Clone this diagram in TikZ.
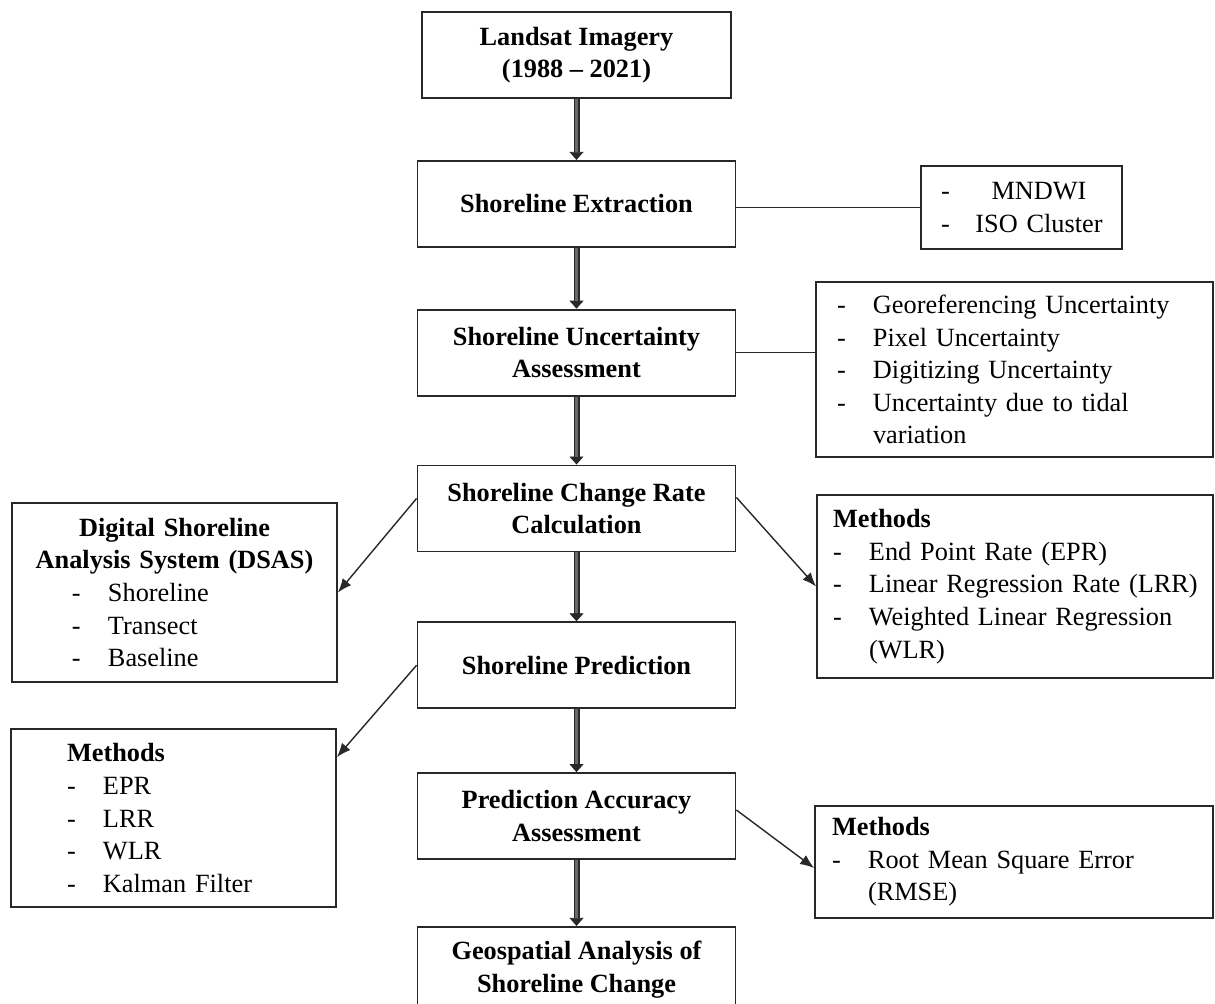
\documentclass[tikz,border=0pt]{standalone}
\usepackage{fontspec}
\setmainfont{Liberation Serif}
\usepackage{tikz}
\usetikzlibrary{arrows.meta,positioning}
\usepackage{xcolor}
\definecolor{lineblack}{RGB}{40,40,40}
\definecolor{shaftgrey}{RGB}{105,105,105}
\newcommand{\itm}[1]{\mbox{\makebox[18pt][l]{-}#1}}

\begin{document}
\begin{tikzpicture}[x=0.5pt, y=-0.5pt,
    font=\fontsize{13.15}{16.3}\selectfont,
    mainstep/.style={rectangle, draw=lineblack, line width=0.9pt,
        minimum width=159pt, minimum height=43pt, align=center,
        font=\fontsize{13.15}{16.3}\selectfont\bfseries, inner sep=2pt},
    sidebox/.style={rectangle, draw=lineblack, line width=0.9pt,
        align=left, inner ysep=2pt},
    flow/.style={-{Triangle[length=4pt,width=7pt,line width=0.4pt]},
        line width=3pt, draw=lineblack,
        postaction={draw=shaftgrey, line width=1.2pt, -, shorten >=4pt}},
    link/.style={lineblack, line width=0.7pt},
    linkarr/.style={link, -{Latex[length=7pt,width=5.5pt]}}
]
    \useasboundingbox (0,0) rectangle (1215,1003);

    % main chain
    \node[mainstep, minimum width=154.5pt] (land) at (576.5,55) {Landsat Imagery\\(1988 -- 2021)};
    \node[mainstep, below=30.5pt of land] (extr) {Shoreline Extraction};
    \node[mainstep, below=30.5pt of extr] (unc) {Shoreline Uncertainty\\Assessment};
    \node[mainstep, below=34pt of unc] (rate) {Shoreline Change Rate\\Calculation};
    \node[mainstep, below=34.5pt of rate] (pred) {Shoreline Prediction};
    \node[mainstep, below=31.5pt of pred] (acc) {Prediction Accuracy\\Assessment};
    \node[mainstep, below=33pt of acc] (geo) {Geospatial Analysis of\\Shoreline Change};

    \draw[flow] (land) -- (extr);
    \draw[flow] (extr) -- (unc);
    \draw[flow] (unc) -- (rate);
    \draw[flow] (rate) -- (pred);
    \draw[flow] (pred) -- (acc);
    \draw[flow] (acc) -- (geo);

    % side boxes
    \node[sidebox, minimum width=100.5pt, minimum height=41.5pt, inner xsep=10pt, text width=80.5pt]
        (mndwi) at (1021.5,207.5) {\itm{\makebox[62pt]{MNDWI}}\\\itm{\makebox[62pt]{ISO Cluster}}};
    \node[sidebox, minimum height=87.5pt, inner xsep=10.5pt, text width=177.5pt]
        (unclist) at (1014.5,369.5) {\itm{Georeferencing Uncertainty}\\\itm{Pixel Uncertainty}\\
        \itm{Digitizing Uncertainty}\\\itm{Uncertainty due to tidal}\\\hspace*{18pt}variation};
    \node[sidebox, minimum height=91.5pt, inner xsep=8pt, text width=182pt]
        (ratemeth) at (1015,586.5) {\textbf{Methods}\\\itm{End Point Rate (EPR)}\\
        \itm{Linear Regression Rate (LRR)}\\\itm{Weighted Linear Regression}\\\hspace*{18pt}(WLR)};
    \node[sidebox, minimum height=89.5pt, inner xsep=6pt, text width=150.5pt]
        (dsas) at (174.5,592.5) {\makebox[\linewidth]{\textbf{Digital Shoreline}}\\
        \makebox[\linewidth]{\textbf{Analysis System (DSAS)}}\\
        \hspace*{24pt}\itm{Shoreline}\\\hspace*{24pt}\itm{Transect}\\\hspace*{24pt}\itm{Baseline}};
    \node[sidebox, minimum height=89pt, inner xsep=28pt, text width=106.5pt]
        (predmeth) at (173.5,818) {\textbf{Methods}\\\itm{EPR}\\\itm{LRR}\\\itm{WLR}\\\itm{Kalman Filter}};
    \node[sidebox, minimum height=56pt, inner xsep=8.5pt, text width=182pt]
        (accmeth) at (1014,862) {\textbf{Methods}\\\itm{Root Mean Square Error}\\\hspace*{18pt}(RMSE)};

    \draw[link] (mndwi.west -| extr.east) -- (mndwi.west);
    \draw[link] (unc.east) -- (unc.east -| unclist.west);
    \draw[linkarr] ([yshift=5.5pt]rate.east) -- (ratemeth.west);
    \draw[linkarr] ([yshift=5pt]rate.west) -- (dsas.east);
    \draw[linkarr] (pred.west) -- ([yshift=-14.5pt]predmeth.north east);
    \draw[linkarr] ([yshift=3pt]acc.east) -- ([yshift=-3pt]accmeth.west);
\end{tikzpicture}
\end{document}
